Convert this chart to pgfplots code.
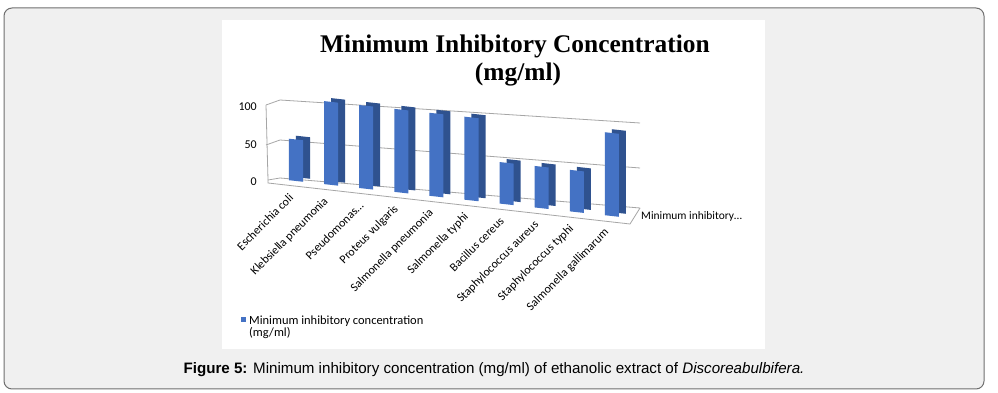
\documentclass[border=0pt]{standalone}
\usepackage{pgfplots}
\pgfplotsset{compat=1.18}
\usepackage{fontspec}
\setmainfont{Carlito}
\newfontfamily\tnr{Liberation Serif}
\newfontfamily\arial{Liberation Sans}
\definecolor{barfront}{HTML}{4472C4}
\definecolor{barside}{HTML}{2F528F}
\definecolor{gridc}{HTML}{A6A6A6}
\definecolor{bgc}{HTML}{F0F0F0}
\definecolor{framec}{HTML}{6E6E6E}

% one bar: index, value (front face and darker depth face behind it)
\newcommand\mybar[2]{%
  \addplot[fill=barside, draw=none, xshift=7bp, yshift=3bp] coordinates {({#1-0.2},0) ({#1+0.2},0) ({#1+0.2},#2) ({#1-0.2},#2)} -- cycle;
  \addplot[fill=barfront, draw=none] coordinates {({#1-0.2},0) ({#1+0.2},0) ({#1+0.2},#2) ({#1-0.2},#2)} -- cycle;
}

\begin{document}
\begin{tikzpicture}
\path[use as bounding box] (0,0) rectangle (998bp,393bp);
\draw[framec, line width=1bp, fill=bgc, rounded corners=8bp] (4bp,4bp) rectangle (984bp,385bp);
\fill[white] (222bp,44bp) rectangle (765bp,373bp);
% walls (decoration)
\draw[gridc, line width=0.8bp] (266bp,288bp) -- (280bp,293bp) -- (640bp,270bp);
\draw[gridc, line width=0.8bp] (266bp,248bp) -- (280bp,253bp) -- (640bp,225bp);
\draw[gridc, line width=0.8bp] (268bp,213bp) -- (280bp,215bp) -- (640bp,185bp);
\draw[gridc, line width=0.8bp] (266bp,288bp) -- (268bp,213bp);
\draw[gridc, line width=0.8bp] (268bp,213bp) -- (268bp,210bp) -- (630bp,169bp) -- (640bp,185bp);
% y tick labels
\node[anchor=east, font=\fontsize{12}{14}\selectfont, inner sep=0pt] at (257bp,286bp) {100};
\node[anchor=east, font=\fontsize{12}{14}\selectfont, inner sep=0pt] at (257bp,248bp) {50};
\node[anchor=east, font=\fontsize{12}{14}\selectfont, inner sep=0pt] at (257bp,211bp) {0};
% title
\node[anchor=base, font=\tnr\bfseries\fontsize{25.5}{28}\selectfont, inner sep=0pt] at (515bp,340bp) {Minimum Inhibitory Concentration};
\node[anchor=base, font=\tnr\bfseries\fontsize{25.5}{28}\selectfont, inner sep=0pt] at (518bp,312bp) {(mg/ml)};
\begin{axis}[
  anchor=origin, at={(296bp,212bp)},
  x={(35.1bp,-3.89bp)}, y={(0bp,0.83bp)},
  xmin=-0.5, xmax=9.5, ymin=0, ymax=100,
  axis line style={draw=none},
  ytick=\empty,
  xtick={0,...,9},
  xticklabels={Escherichia coli, Klebsiella pneumonia, Pseudomonas…, Proteus vulgaris, Salmonella pneumonia, Salmonella typhi, Bacillus cereus, Staphylococcus aureus, Staphylococcus typhi, Salmonella gallimarum},
  major tick length=0pt,
  xticklabel style={xshift=-4bp, yshift=-14bp, rotate=45, anchor=east, font=\fontsize{12}{14}\selectfont, inner sep=1bp},
  clip=false,
]
\mybar{0}{50}
\mybar{1}{100}
\mybar{2}{100}
\mybar{3}{100}
\mybar{4}{100}
\mybar{5}{100}
\mybar{6}{50}
\mybar{7}{50}
\mybar{8}{50}
\mybar{9}{100}
\end{axis}
\node[anchor=west, font=\fontsize{11.5}{13}\selectfont, inner sep=0pt] at (641bp,177bp) {Minimum inhibitory…};
% legend
\fill[barfront] (241bp,71bp) rectangle (246bp,76bp);
\node[anchor=base west, font=\fontsize{12.5}{14}\selectfont, inner sep=0pt] at (249bp,68bp) {Minimum inhibitory concentration};
\node[anchor=base west, font=\fontsize{12.5}{14}\selectfont, inner sep=0pt] at (249bp,56bp) {(mg/ml)};
% caption
\node[anchor=base, font=\arial\fontsize{15.2}{18}\selectfont, inner sep=0pt] at (494bp,20bp) {\textbf{Figure 5:} Minimum inhibitory concentration (mg/ml) of ethanolic extract of \textit{Discoreabulbifera.}};
\end{tikzpicture}
\end{document}
